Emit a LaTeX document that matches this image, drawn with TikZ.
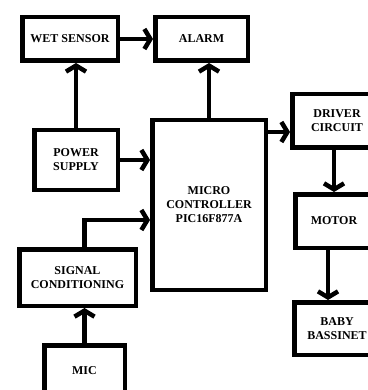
\documentclass[tikz,border=0pt]{standalone}
\usepackage{fontspec}
\setmainfont{Liberation Serif}
\usetikzlibrary{arrows.meta}

\begin{document}
\begin{tikzpicture}[x=1pt,y=-1pt,
                    block/.style={draw,line width=4.5pt,align=center,inner sep=0pt,
                                  font=\fontsize{12}{14}\selectfont\bfseries},
                    link/.style={line width=4.5pt,-{Straight Barb[length=6pt,width=20pt]}}]
    \useasboundingbox (0,0) rectangle (367,390);
    \node[block,minimum width=95.5,minimum height=43.5] (wet) at (70,39) {WET SENSOR};
    \node[block,minimum width=92.5,minimum height=43.5] (alarm) at (201.5,39) {ALARM};
    \node[block,minimum width=83.5,minimum height=59.5] (power) at (76,160) {POWER\\SUPPLY};
    \node[block,minimum width=113.5,minimum height=169.5] (mcu) at (209,205) {MICRO\\CONTROLLER\\PIC16F877A};
    \node[block,minimum width=116.5,minimum height=56.5] (signal) at (77.5,277.5) {SIGNAL\\CONDITIONING};
    \node[block,minimum width=80.5,minimum height=50.5] (mic) at (84.5,370.5) {MIC};
    \node[block,minimum width=89.5,minimum height=53.5] (driver) at (337,121) {DRIVER\\CIRCUIT};
    \node[block,minimum width=77.5,minimum height=53.5] (motor) at (334,221) {MOTOR};
    \node[block,minimum width=85.5,minimum height=52.5] (bassinet) at (337,328.5) {BABY\\BASSINET};

    \draw[link] (wet.east) -- (alarm.west);
    \draw[link] (power.north) -- (power.north |- wet.south);
    \draw[link] (mcu.north) -- (mcu.north |- alarm.south);
    \draw[link] (power.east) -- (power.east -| mcu.west);
    \draw[link] ([xshift=7pt]signal.north) |- ([yshift=-15pt]mcu.west);
    \draw[link] (mic.north) -- (mic.north |- signal.south);
    \draw[link] ([yshift=73pt]mcu.east) -- ([yshift=73pt]mcu.east -| driver.west);
    \draw[link] (motor.north |- driver.south) -- (motor.north);
    \draw[link] ([xshift=-6pt]motor.south) -- ([xshift=-6pt]motor.south |- bassinet.north);
\end{tikzpicture}
\end{document}
